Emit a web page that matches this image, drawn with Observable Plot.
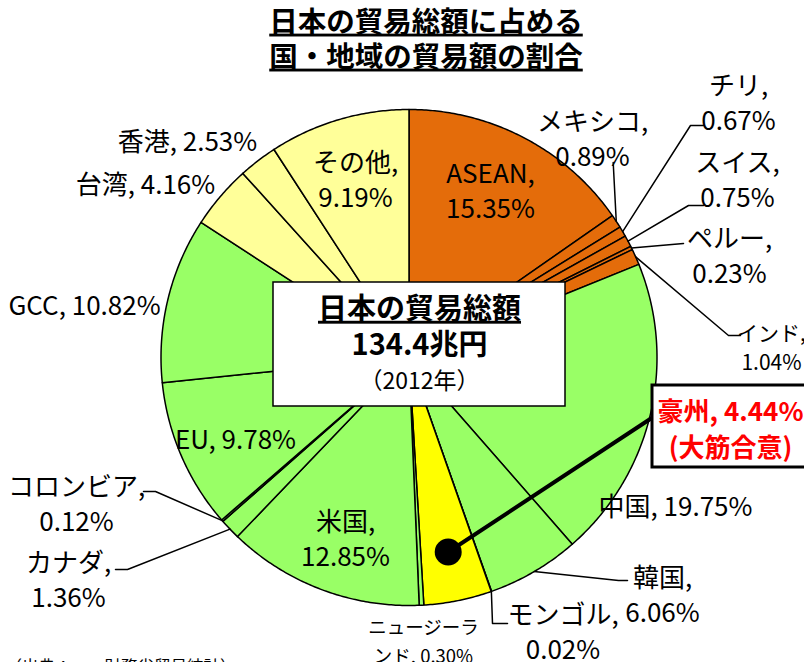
<!DOCTYPE html>
<html>
<head>
<meta charset="utf-8">
<script src="https://cdn.jsdelivr.net/npm/d3@7"></script>
<script src="https://cdn.jsdelivr.net/npm/@observablehq/plot@0.6"></script>
<style>
  body { margin: 0; background: #fff; }
  svg { display: block; }
</style>
</head>
<body>
<div id="chart"></div>
<script>
// ---- data ----
const countries = ["ASEAN","メキシコ","チリ","スイス","ペルー","インド","中国","韓国","モンゴル","豪州","ニュージーランド","米国","カナダ","コロンビア","EU","GCC","台湾","香港","その他"];
const shares    = [15.35, 0.89, 0.67, 0.75, 0.23, 1.04, 19.75, 6.06, 0.02, 4.44, 0.30, 12.85, 1.36, 0.12, 9.78, 10.82, 4.16, 2.53, 9.19];
const groups    = ["発効済","発効済","発効済","発効済","発効済","発効済","交渉中","交渉中","交渉中","大筋合意","交渉中","交渉中","交渉中","交渉中","交渉中","交渉中","その他","その他","その他"];
const groupNames = ["発効済","交渉中","大筋合意","その他"];
const titleLines = ["日本の貿易総額に占める","国・地域の貿易額の割合"];
const centerLines = ["日本の貿易総額","134.4兆円","（2012年）"];
const highlightNote = "(大筋合意)";
const sourceNote = "（出典：　　財務省貿易統計）";

// ---- styles / layout ----
const groupColors = ["#E46C0A","#99FF66","#FFFF00","#FFFF99"];
const W = 804, H = 662;
const CX = 408.5, CY = 357, R = 248;
const FONT = "'Noto Sans CJK JP', 'Noto Sans', sans-serif";

const labelLayout = [
  {c:"ASEAN", x:490, y:189, lines:2},
  {c:"メキシコ", x:592, y:136.5, lines:2, leader:[[612.7,162]]},
  {c:"チリ", x:738, y:100.5, lines:2, leader:[[690,125],[703,125]]},
  {c:"スイス", x:737, y:177.5, lines:2, leader:[[688,205],[703,205]]},
  {c:"ペルー", x:729, y:253.5, lines:2, leader:[[683,243]]},
  {c:"インド", x:771, y:346, lines:2, size:21, lh:1.35, leader:[[728,335],[740,335]]},
  {c:"中国", x:675, y:504, lines:1},
  {c:"韓国", x:662, y:593, lines:2, leader:[[618,580],[627,580]]},
  {c:"モンゴル", x:562.5, y:630, lines:2, leader:[[492,623],[507,623]]},
  {c:"ニュージーランド", x:423, y:639, brk:6, size:18.5, lh:1.55},
  {c:"米国", x:345, y:537, lines:2},
  {c:"カナダ", x:68, y:577.5, lines:2, leader:[[127,569],[115,569]]},
  {c:"コロンビア", x:76, y:501.5, lines:2, leader:[[155,491],[143,491]]},
  {c:"EU", x:235, y:437, lines:1},
  {c:"GCC", x:84, y:303, lines:1},
  {c:"台湾", x:145, y:182, lines:1},
  {c:"香港", x:187, y:139, lines:1},
  {c:"その他", x:355, y:178, lines:2}
];

// ---- derived geometry ----
const total = d3.sum(shares);
let acc = 0;
const slices = countries.map((c, i) => {
  const a0 = acc / total * 2 * Math.PI;
  acc += shares[i];
  const a1 = acc / total * 2 * Math.PI;
  return {c, v: shares[i], g: groups[i], a0, a1, mid: (a0 + a1) / 2};
});
const pt = (a, r) => [CX + r * Math.sin(a), CY - r * Math.cos(a)];

const polyRows = slices.flatMap(s => {
  const n = Math.max(2, Math.ceil((s.a1 - s.a0) / (Math.PI / 360)));
  const pts = [[CX, CY]];
  for (let k = 0; k <= n; k++) pts.push(pt(s.a0 + (s.a1 - s.a0) * k / n, R));
  pts.push([CX, CY]);
  return pts.map(p => ({id: s.c, g: s.g, x: p[0], y: p[1]}));
});

const layoutById = new Map(labelLayout.map(d => [d.c, d]));
const labelRows = slices.filter(s => layoutById.has(s.c)).map(s => {
  const L = layoutById.get(s.c);
  let t = `${s.c}, ${s.v.toFixed(2)}%`;
  if (L.brk != null) t = t.slice(0, L.brk) + "\n" + t.slice(L.brk);
  else if (L.lines === 2) t = t.replace(", ", ",\n");
  return {...L, text: t};
});

const leaderRows = slices.filter(s => layoutById.has(s.c) && layoutById.get(s.c).leader).flatMap(s => {
  const L = layoutById.get(s.c);
  return [pt(s.mid, R), ...L.leader].map(p => ({id: s.c, x: p[0], y: p[1]}));
});

const aus = slices.find(s => s.g === "大筋合意");
const dotP = pt(aus.mid, 0.8 * R);
const hiBox = {x1: 652, x2: 840, y1: 385, y2: 467};
const hiLine = [{x: dotP[0], y: dotP[1]}, {x: hiBox.x1, y: 417}];
const hiText = `${aus.c}, ${aus.v.toFixed(2)}%\n${highlightNote}`;
const cBox = {x1: 273, x2: 565, y1: 282, y2: 406};

const txt = (data, opts) => Plot.text(data, {fontFamily: FONT, fill: "black", ...opts});

const chart = Plot.plot({
  width: W, height: H, margin: 0,
  x: {domain: [0, W], range: [0, W], axis: null},
  y: {domain: [0, H], range: [0, H], axis: null},
  color: {type: "ordinal", domain: groupNames, range: groupColors},
  style: {fontFamily: FONT, background: "#fff"},
  marks: [
    Plot.line(polyRows, {x: "x", y: "y", z: "id", fill: "g", stroke: "black", strokeWidth: 1.5, strokeLinejoin: "round"}),
    Plot.rect([cBox], {x1: "x1", x2: "x2", y1: "y1", y2: "y2", fill: "white", stroke: "black", strokeWidth: 1.5}),
    txt([centerLines[0]], {x: 419, y: 309, text: d => d, fontSize: 29, fontWeight: "bold"}),
    txt([centerLines[1]], {x: 419, y: 345, text: d => d, fontSize: 29, fontWeight: "bold"}),
    txt([centerLines[2]], {x: 419, y: 381.5, text: d => d, fontSize: 23}),
    Plot.line(leaderRows, {x: "x", y: "y", z: "id", stroke: "black", strokeWidth: 1.5}),
    ...labelRows.map(r => txt([r], {x: "x", y: "y", text: "text", fontSize: r.size || 26, lineHeight: r.lh || 1.35})),
    Plot.line(hiLine, {x: "x", y: "y", stroke: "black", strokeWidth: 4}),
    Plot.dot([{x: dotP[0], y: dotP[1]}], {x: "x", y: "y", r: 13.5, fill: "black", stroke: "none"}),
    Plot.rect([hiBox], {x1: "x1", x2: "x2", y1: "y1", y2: "y2", fill: "white", stroke: "black", strokeWidth: 3}),
    txt([hiText], {x: 730, y: 427, text: d => d, fontSize: 26, fontWeight: "bold", fill: "#FF0000", lineHeight: 1.4}),
    txt([titleLines[0]], {x: 425.5, y: 22, text: d => d, fontSize: 28.5, fontWeight: "bold"}),
    txt([titleLines[1]], {x: 425.5, y: 57, text: d => d, fontSize: 28.5, fontWeight: "bold"}),
    txt([sourceNote], {x: 5, y: 667, text: d => d, fontSize: 16.5, textAnchor: "start"})
  ]
});

const underlined = new Set([titleLines[0], titleLines[1], centerLines[0]]);
d3.select(chart).selectAll("text").each(function() {
  if (underlined.has(this.textContent)) {
    this.style.textDecoration = "underline";
    this.style.textDecorationThickness = "2px";
  }
});
document.getElementById("chart").appendChild(chart);
</script>
</body>
</html>
